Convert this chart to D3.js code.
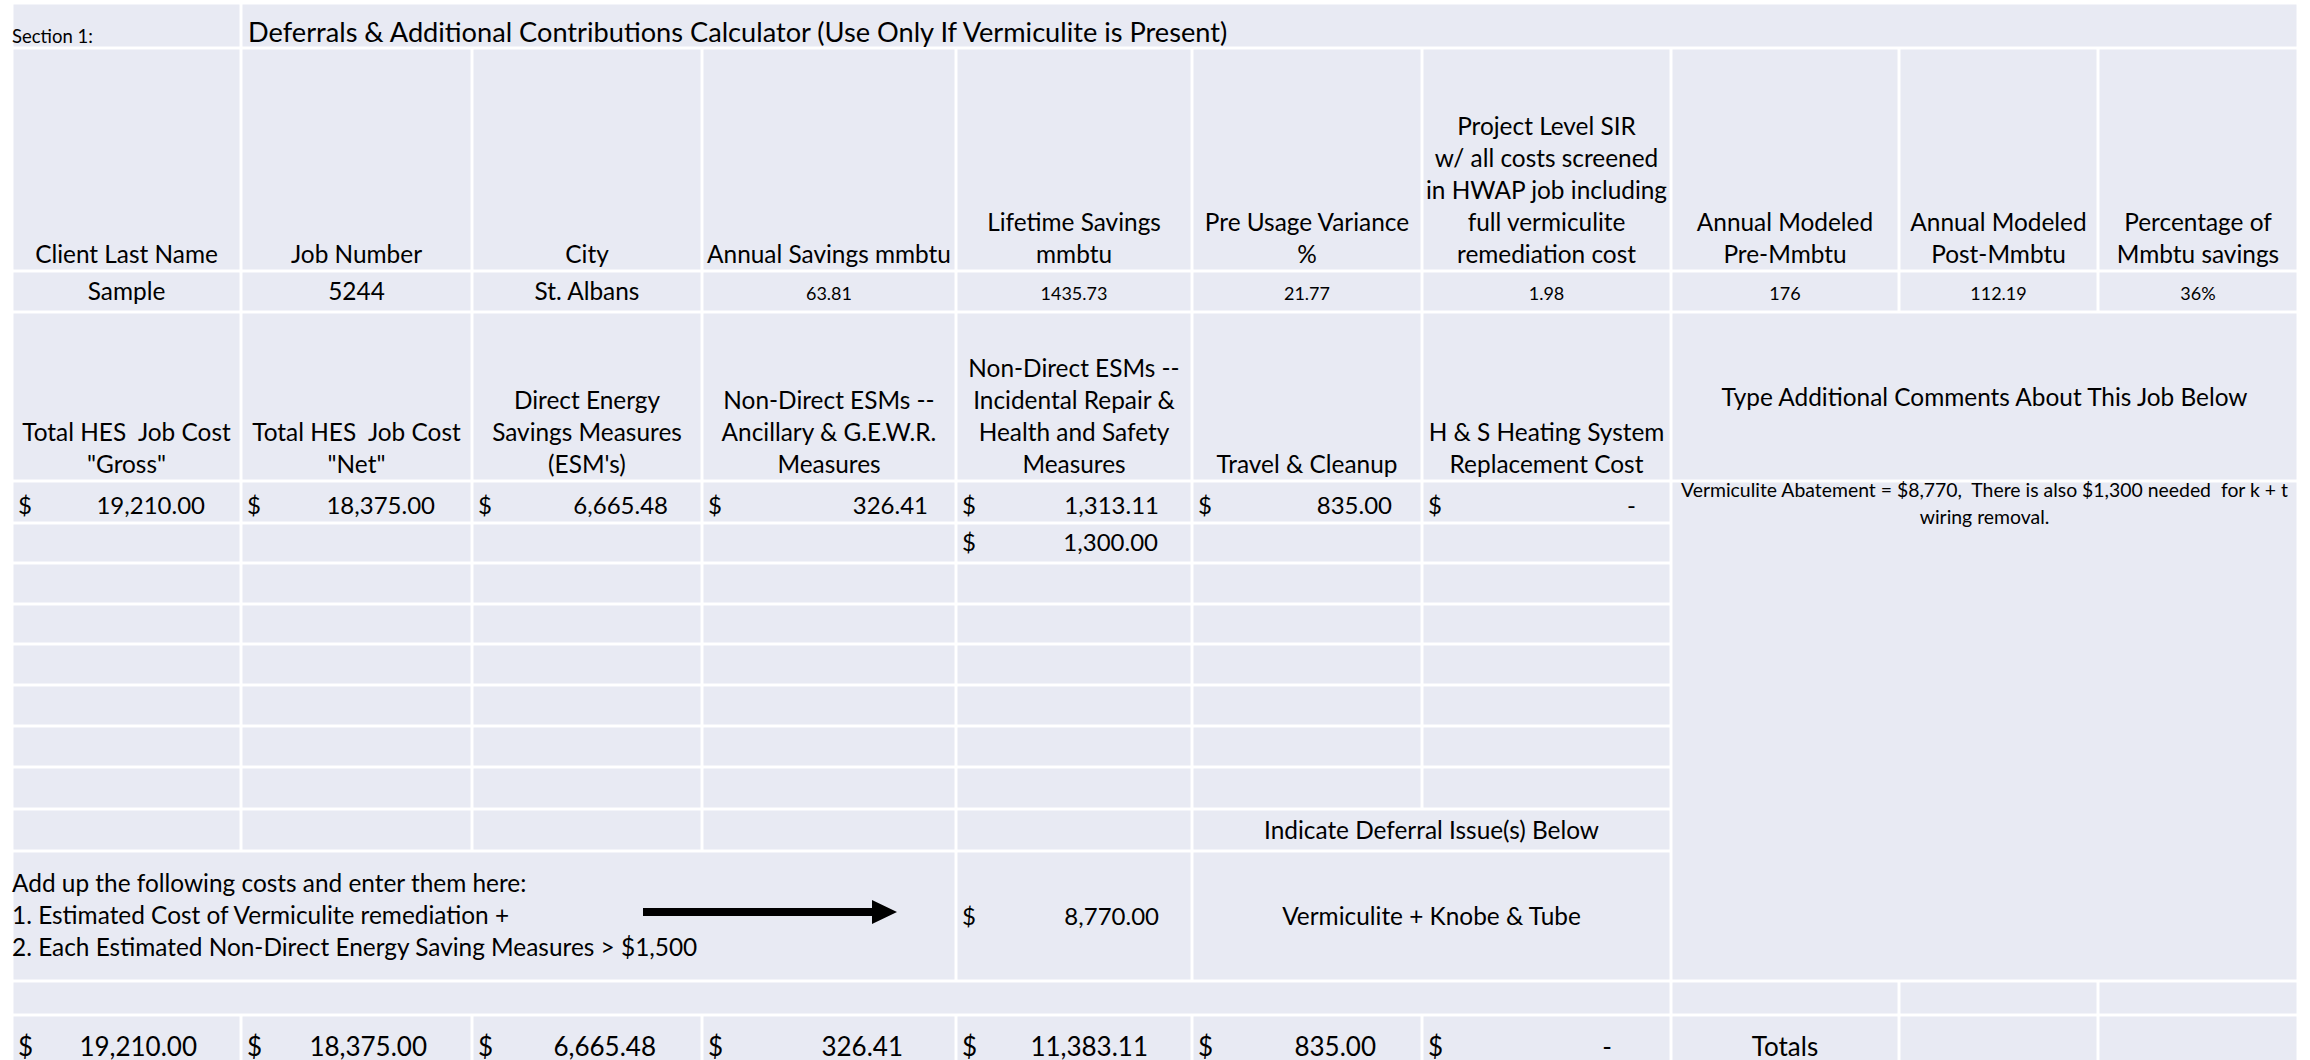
<!DOCTYPE html>
<html>
<head>
<meta charset="utf-8">
<title>deferrals calculator</title>
<script src="https://d3js.org/d3.v7.min.js"></script>
<style>
  body { margin: 0; background: #fff; }
  text { font-family: Lato, "Open Sans", sans-serif; fill: #000; white-space: pre; }
</style>
</head>
<body>
<script>
// ---- values ----
var sectionLabel = "Section 1:"
var title = "Deferrals & Additional Contributions Calculator (Use Only If Vermiculite is Present)"

var jobHeaders = [
  ["Client Last Name"], ["Job Number"], ["City"], ["Annual Savings mmbtu"],
  ["Lifetime Savings", "mmbtu"], ["Pre Usage Variance", "%"],
  ["Project Level SIR", "w/ all costs screened", "in HWAP job including", "full vermiculite", "remediation cost"],
  ["Annual Modeled", "Pre-Mmbtu"], ["Annual Modeled", "Post-Mmbtu"], ["Percentage of", "Mmbtu savings"]
]
var jobValues = ["Sample", "5244", "St. Albans", "63.81", "1435.73", "21.77", "1.98", "176", "112.19", "36%"]

var costHeaders = [
  ["Total HES  Job Cost", "\"Gross\""], ["Total HES  Job Cost", "\"Net\""],
  ["Direct Energy", "Savings Measures", "(ESM's)"],
  ["Non-Direct ESMs --", "Ancillary & G.E.W.R.", "Measures"],
  ["Non-Direct ESMs --", "Incidental Repair &", "Health and Safety", "Measures"],
  ["Travel & Cleanup"], ["H & S Heating System", "Replacement Cost"]
]
var costRow1 = [19210.00, 18375.00, 6665.48, 326.41, 1313.11, 835.00, 0]
var costRow2 = [null, null, null, null, 1300.00, null, null]

var commentsHeader = "Type Additional Comments About This Job Below"
var comment = ["Vermiculite Abatement = $8,770,  There is also $1,300 needed  for k + t", "wiring removal."]
var deferralHeader = "Indicate Deferral Issue(s) Below"
var deferralIssue = "Vermiculite + Knobe & Tube"
var instructions = [
  "Add up the following costs and enter them here:",
  "1. Estimated Cost of Vermiculite remediation +",
  "2. Each Estimated Non-Direct Energy Saving Measures > $1,500"
]
var deferralCost = 8770.00
var totals = [19210.00, 18375.00, 6665.48, 326.41, 11383.11, 835.00, 0]
var totalsLabel = "Totals"

// ---- sheet layout ----
var width = 2310, height = 1060
var colWidths = [229, 231, 230, 254, 236, 230, 249, 228, 199, 200]
var rowHeights = [45, 223, 41, 169, 42, 40, 41, 40, 41, 41, 41, 42, 42, 130, 34, 60]
var colEdges = [12].concat(Array.from(d3.cumsum(colWidths), function(d){ return d + 12 }))
var rowEdges = [3].concat(Array.from(d3.cumsum(rowHeights), function(d){ return d + 3 }))

var x = d3.scaleOrdinal().domain(d3.range(colEdges.length)).range(colEdges)
var y = d3.scaleOrdinal().domain(d3.range(rowEdges.length)).range(rowEdges)

// merged cell blocks [row0, row1, col0, col1]
var cells = []
cells.push([0, 0, 0, 0], [0, 0, 1, 9])
for (var r = 1; r <= 2; r++) for (var c = 0; c < 10; c++) cells.push([r, r, c, c])
for (var c = 0; c < 7; c++) cells.push([3, 3, c, c])
cells.push([3, 3, 7, 9])
for (var r = 4; r <= 11; r++) for (var c = 0; c < 7; c++) cells.push([r, r, c, c])
cells.push([4, 13, 7, 9])
for (var c = 0; c < 5; c++) cells.push([12, 12, c, c])
cells.push([12, 12, 5, 6])
cells.push([13, 13, 0, 3], [13, 13, 4, 4], [13, 13, 5, 6])
cells.push([14, 14, 0, 6], [14, 14, 7, 7], [14, 14, 8, 8], [14, 14, 9, 9])
for (var c = 0; c < 10; c++) cells.push([15, 15, c, c])

var svg = d3.select("body")
  .append("svg")
  .attr("width", width)
  .attr("height", height)

svg.append("rect").attr("width", width).attr("height", height).attr("fill", "#fff")

svg.append("g").attr("class", "cells")
  .selectAll("rect")
  .data(cells)
  .join("rect")
  .attr("x", function(d){ return x(d[2]) + 1.5 })
  .attr("y", function(d){ return y(d[0]) + 1.5 })
  .attr("width", function(d){ return x(d[3] + 1) - x(d[2]) - 3 })
  .attr("height", function(d){ return y(d[1] + 1) - y(d[0]) - 3 })
  .attr("fill", "#e8eaf3")

var g = svg.append("g").attr("class", "texts")
var big = 24.4, num = 24, small = 18

function label(tx, ty, str, size, anchor) {
  return g.append("text")
    .attr("x", tx).attr("y", ty)
    .attr("font-size", size)
    .attr("text-anchor", anchor || "start")
    .text(str)
}
function mid(c0, c1) { return (x(c0) + x(c1 + 1)) / 2 }

// header lines sit on the bottom of the cell, one line every 32px
function headerBlock(lines, c, lastBase) {
  lines.forEach(function(s, i){
    label(mid(c, c), lastBase - (lines.length - 1 - i) * 32, s, big, "middle")
  })
}

var fmt = d3.format(",.2f")
function money(v, c, base, size, pad, dashPad) {
  label(x(c) + 6, base, "$", size)
  if (v === 0) label(x(c + 1) - dashPad, base, "-", size, "end")
  else label(x(c + 1) - pad, base, fmt(v), size, "end")
}

// title row
label(12, 43, sectionLabel, 18.5)
label(x(1) + 7, 42, title, 27.2)

// job header + values
jobHeaders.forEach(function(h, i){ headerBlock(h, i, 263) })
jobValues.forEach(function(v, i){ label(mid(i, i), 300, v, i < 3 ? big : small, "middle") })

// cost headers
costHeaders.forEach(function(h, i){ headerBlock(h, i, 473) })
label(mid(7, 9), 406, commentsHeader, big, "middle")

var padRow = [36, 37, 34, 28, 33, 30, 0]
costRow1.forEach(function(v, i){ money(v, i, 514, num, padRow[i], 35) })
costRow2.forEach(function(v, i){ if (v != null) money(v, i, 551, num, 34, 35) })

comment.forEach(function(s, i){ label(mid(7, 9), 497 + i * 27, s, 19.4, "middle") })

label(mid(5, 6), 839, deferralHeader, big, "middle")
instructions.forEach(function(s, i){ label(12, 892 + i * 32, s, big) })
money(deferralCost, 4, 925, num, 33, 35)
label(mid(5, 6), 925, deferralIssue, big, "middle")

// arrow pointing to the deferral cost
var arrow = d3.path()
arrow.moveTo(643, 908); arrow.lineTo(872, 908); arrow.lineTo(872, 900)
arrow.lineTo(897, 912); arrow.lineTo(872, 924); arrow.lineTo(872, 916)
arrow.lineTo(643, 916); arrow.closePath()
svg.append("path").attr("d", arrow.toString()).attr("fill", "#000")

// totals row (runs off the bottom of the sheet, as in the original)
var padTot = [44, 45, 46, 53, 44, 46, 0]
totals.forEach(function(v, i){ money(v, i, 1056, 26, padTot[i], 59) })
label(mid(7, 7), 1056, totalsLabel, 26, "middle")
</script>
</body>
</html>
